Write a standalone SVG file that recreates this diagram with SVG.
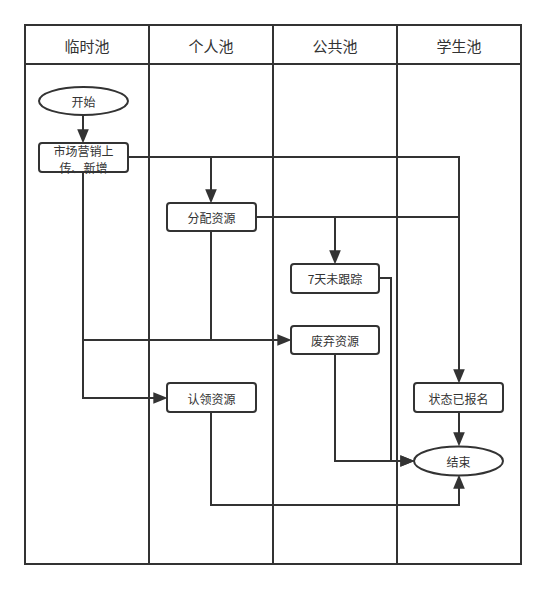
<svg xmlns="http://www.w3.org/2000/svg" width="546" height="590" viewBox="0 0 546 590">
<style>
.lane{fill:none;stroke:#333;stroke-width:2}
.box{fill:#fff;stroke:#333;stroke-width:2}
.c{fill:none;stroke:#333;stroke-width:2}
.t{font-family:"Noto Sans CJK SC","Liberation Sans",sans-serif;font-size:12px;fill:#333;text-anchor:middle;dominant-baseline:central}
.h{font-size:15px}
</style>
<defs>
<marker id="ar" markerUnits="userSpaceOnUse" markerWidth="14" markerHeight="12" viewBox="0 0 12 10" refX="10" refY="5" orient="auto">
<path d="M0,0 L12,5 L0,10 z" fill="#333"/>
</marker>
</defs>
<rect width="546" height="590" fill="#fff"/>
<g id="lanes">
<rect class="lane" x="25" y="25" width="496" height="539"/>
<line class="lane" x1="25" y1="64" x2="521" y2="64"/>
<line class="lane" x1="149" y1="25" x2="149" y2="564"/>
<line class="lane" x1="273" y1="25" x2="273" y2="564"/>
<line class="lane" x1="397" y1="25" x2="397" y2="564"/>
<text class="t h" x="87" y="45">临时池</text>
<text class="t h" x="211" y="45">个人池</text>
<text class="t h" x="335" y="45">公共池</text>
<text class="t h" x="459" y="45">学生池</text>
</g>
<g id="connectors">
<path class="c" d="M83,115 V141" marker-end="url(#ar)"/>
<path class="c" d="M128,157 H459 V381" marker-end="url(#ar)"/>
<path class="c" d="M211,157 V201" marker-end="url(#ar)"/>
<path class="c" d="M256,217 H459"/>
<path class="c" d="M335,217 V262" marker-end="url(#ar)"/>
<path class="c" d="M379,278 H391 V461 H412" marker-end="url(#ar)"/>
<path class="c" d="M335,354 V461 H412" marker-end="url(#ar)"/>
<path class="c" d="M83,172 V398 H165" marker-end="url(#ar)"/>
<path class="c" d="M83,340 H289" marker-end="url(#ar)"/>
<path class="c" d="M211,231 V340"/>
<path class="c" d="M211,412 V505 H459 V477" marker-end="url(#ar)"/>
<path class="c" d="M459,412 V444" marker-end="url(#ar)"/>
</g>
<g id="start">
<ellipse class="box" cx="83.5" cy="101" rx="44.5" ry="14"/>
<text class="t" x="83.5" y="101">开始</text>
</g>
<g id="market">
<rect class="box" x="39" y="143" width="89" height="29" rx="3"/>
<text class="t" x="83.5" y="150">市场营销上</text>
<text class="t" x="83.5" y="167">传、新增</text>
</g>
<g id="assign">
<rect class="box" x="167" y="203" width="89" height="28" rx="3"/>
<text class="t" x="211.5" y="217">分配资源</text>
</g>
<g id="untracked">
<rect class="box" x="291" y="264" width="88" height="29" rx="3"/>
<text class="t" x="335" y="278.5">7天未跟踪</text>
</g>
<g id="discard">
<rect class="box" x="291" y="326" width="88" height="28" rx="3"/>
<text class="t" x="335" y="340">废弃资源</text>
</g>
<g id="claim">
<rect class="box" x="167" y="383" width="89" height="29" rx="3"/>
<text class="t" x="211.5" y="398">认领资源</text>
</g>
<g id="enrolled">
<rect class="box" x="414" y="383" width="89" height="29" rx="3"/>
<text class="t" x="458.5" y="398">状态已报名</text>
</g>
<g id="end">
<ellipse class="box" cx="458.5" cy="461" rx="44.5" ry="14.5"/>
<text class="t" x="458.5" y="461">结束</text>
</g>
</svg>
